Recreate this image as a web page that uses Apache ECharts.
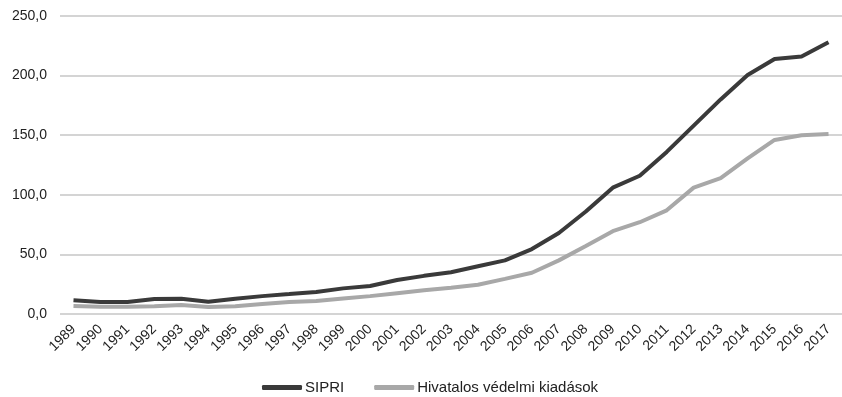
<!DOCTYPE html>
<html>
<head>
<meta charset="utf-8">
<script src="https://cdn.jsdelivr.net/npm/echarts@6/dist/echarts.min.js"></script>
<style>
  html, body { margin: 0; padding: 0; background: #fff; }
  #chart { width: 842px; height: 397px; }
</style>
</head>
<body>
<div id="chart"></div>
<script>
// Years on the category axis
const years = ['1989','1990','1991','1992','1993','1994','1995','1996','1997','1998',
  '1999','2000','2001','2002','2003','2004','2005','2006','2007','2008',
  '2009','2010','2011','2012','2013','2014','2015','2016','2017'];

// SIPRI estimate
const sipri = [11.5, 10.0, 10.0, 12.5, 12.8, 10.3, 12.8, 15.0, 16.7, 18.5,
  21.5, 23.5, 28.5, 32.0, 35.0, 40.0, 45.0, 54.5, 68.0, 86.0,
  106.0, 116.0, 136.0, 158.0, 180.0, 200.5, 214.0, 216.0, 228.0];

// Official defence expenditure
const official = [6.7, 6.0, 6.0, 6.5, 7.5, 5.8, 6.5, 8.4, 10.0, 11.0,
  13.0, 15.0, 17.5, 20.0, 22.0, 24.5, 29.5, 34.6, 45.0, 57.0,
  69.5, 77.0, 87.0, 106.0, 114.0, 130.5, 146.0, 150.0, 151.0];

// Value axis ticks
const yMin = 0, yMax = 250, yStep = 50;

const font = 'Liberation Sans, Arial, sans-serif';

const chart = echarts.init(document.getElementById('chart'));
chart.setOption({
  animation: false,
  grid: { left: 60, right: -7, top: 16, bottom: 83, containLabel: false },
  legend: {
    bottom: -3,
    left: 257,
    itemWidth: 40,
    itemHeight: 5,
    itemGap: 30,
    icon: 'roundRect',
    textStyle: { fontFamily: font, fontSize: 15, color: '#222', padding: [0, 0, 0, -2] },
    data: ['SIPRI', 'Hivatalos védelmi kiadások']
  },
  xAxis: {
    type: 'category',
    data: years,
    boundaryGap: true,
    axisLine: { show: false },
    axisTick: { show: false },
    axisLabel: {
      rotate: 45,
      interval: 0,
      margin: 13,
      fontFamily: font,
      fontSize: 14,
      color: '#222'
    }
  },
  yAxis: {
    type: 'value',
    min: yMin,
    max: yMax,
    interval: yStep,
    axisLine: { show: false },
    axisTick: { show: false },
    splitLine: { lineStyle: { color: '#c6c6c6', width: 1.5 } },
    axisLabel: {
      margin: 13,
      fontFamily: font,
      fontSize: 14,
      color: '#222',
      formatter: v => v.toFixed(1).replace('.', ',')
    }
  },
  series: [
    {
      name: 'SIPRI',
      type: 'line',
      data: sipri,
      symbol: 'none',
      lineStyle: { color: '#3a3a3a', width: 4 },
      itemStyle: { color: '#3a3a3a' },
      z: 3
    },
    {
      name: 'Hivatalos védelmi kiadások',
      type: 'line',
      data: official,
      symbol: 'none',
      lineStyle: { color: '#a8a8a8', width: 4 },
      itemStyle: { color: '#a8a8a8' },
      z: 2
    }
  ]
});
</script>
</body>
</html>
